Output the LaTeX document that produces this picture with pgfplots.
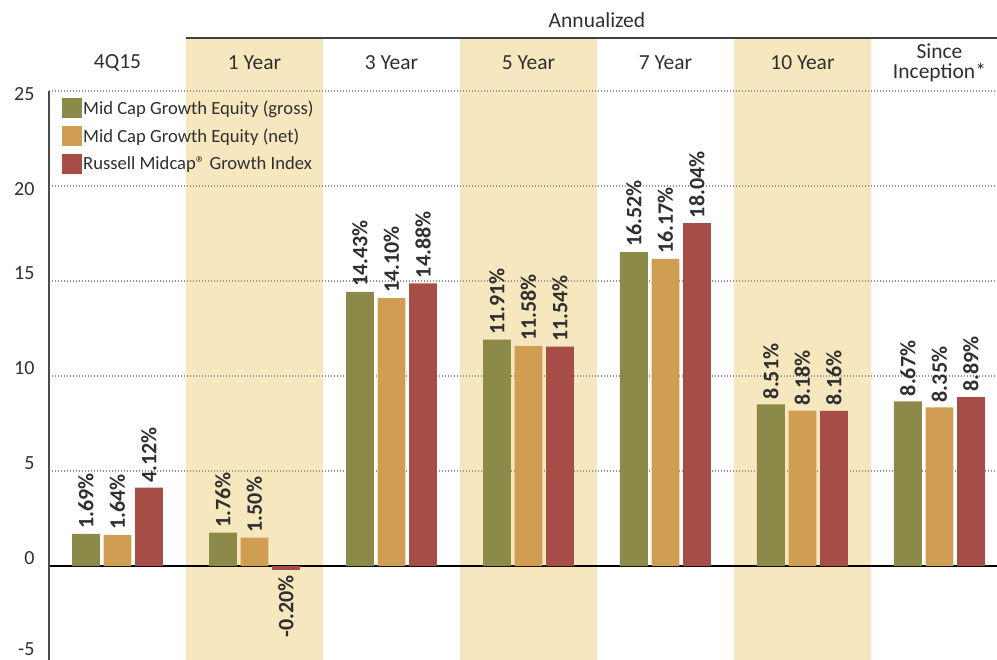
\documentclass[border=0pt]{standalone}
\usepackage{fontspec}
\setmainfont{Carlito}
\usepackage{pgfplots}
\pgfplotsset{compat=1.18}

\definecolor{gross}{HTML}{8B8A48}
\definecolor{net}{HTML}{CF9E52}
\definecolor{russell}{HTML}{A64E46}
\definecolor{band}{HTML}{F6E7BF}
\definecolor{ink}{HTML}{2F2F2F}

\begin{document}
\begin{tikzpicture}
\begin{axis}[
    set layers=standard,
    width=948pt, height=623pt, scale only axis,
    xmin=-0.5, xmax=6.42,
    ymin=-5, ymax=27.79,
    clip=false,
    axis line style={draw=none},
    major tick length=0pt,
    /pgf/number format/assume math mode=true,
    ytick={-5,0,5,10,15,20,25},
    ymajorgrids,
    grid style={dash pattern=on 1.2pt off 1.8pt, line width=1.2pt, gray!85},
    yticklabel={\pgfmathparse{\tick>17}\ifdim\pgfmathresult pt>0.5pt\raisebox{-3pt}[\height][\depth]{\pgfmathprintnumber{\tick}}\else\pgfmathparse{\tick<-1}\ifdim\pgfmathresult pt>0.5pt\raisebox{12pt}[\height][\depth]{\pgfmathprintnumber{\tick}}\else\raisebox{8pt}[\height][\depth]{\pgfmathprintnumber{\tick}}\fi\fi},
    yticklabel style={font=\fontsize{20}{24}\selectfont, text=ink, anchor=east, xshift=-11pt},
    xtick={0,1,2,3,4,5,6},
    xticklabels={4Q15, 1 Year, 3 Year, 5 Year, 7 Year, 10 Year, {Since\\Inception*}},
    xticklabel pos=top,
    xticklabel style={font=\fontsize{21.5}{20}\selectfont, text=ink, anchor=center, yshift=-25pt, align=center},
    ybar, bar width=0.204,
    legend style={at={(rel axis cs:0.0137,0.9037)}, anchor=north west, draw=none, fill=none,
        inner sep=0pt, font=\fontsize{18.6}{22}\selectfont, text=ink, row sep=8pt,
        nodes={inner sep=1pt}},
    legend cell align=left,
    legend image code/.code={\fill[#1] (0pt,-10pt) rectangle (20pt,10pt);},
    nodes near coords={\pgfmathprintnumber[fixed, fixed zerofill, precision=2]{\pgfplotspointmeta}\%},
    visualization depends on={rawy \as \rawy},
    every node near coord/.append style={font=\bfseries\fontsize{22}{24}\selectfont, text=ink,
        rotate=90, inner sep=5pt,
        anchor={\ifdim\rawy pt<0pt east\else west\fi}},
]
\begin{pgfonlayer}{axis background}
\fill[band] (axis cs:0.5,-5) rectangle (axis cs:1.5,27.79);
\fill[band] (axis cs:2.5,-5) rectangle (axis cs:3.5,27.79);
\fill[band] (axis cs:4.5,-5) rectangle (axis cs:5.5,27.79);
\end{pgfonlayer}
\draw[black, line width=1.4pt] (axis cs:-0.5,0) -- (axis cs:6.42,0);
\draw[gray!60!black, line width=2pt] (axis cs:-0.5,-5) -- (axis cs:-0.5,25);
\draw[gray!50!black, line width=1.5pt] (axis cs:0.5,27.79) -- (axis cs:6.42,27.79);
\node[font=\fontsize{21.5}{24}\selectfont, text=ink] at (axis cs:3.5,28.74) {Annualized};

\addplot[fill=gross, draw=none, bar shift=-0.23] coordinates {
    (0,1.69) (1,1.76) (2,14.43) (3,11.91) (4,16.52) (5,8.51) (6,8.67)
};
\addlegendentry{Mid Cap Growth Equity (gross)}
\addplot[fill=net, draw=none, bar shift=0] coordinates {
    (0,1.64) (1,1.50) (2,14.10) (3,11.58) (4,16.17) (5,8.18) (6,8.35)
};
\addlegendentry{Mid Cap Growth Equity (net)}
\addplot[fill=russell, draw=none, bar shift=0.23] coordinates {
    (0,4.12) (1,-0.20) (2,14.88) (3,11.54) (4,18.04) (5,8.16) (6,8.89)
};
\addlegendentry{Russell Midcap® Growth Index}
\end{axis}
\pgfresetboundingbox
\path ([xshift=-49pt,yshift=2pt]current axis.south west) rectangle ([yshift=38pt]current axis.north east);
\end{tikzpicture}
\end{document}
